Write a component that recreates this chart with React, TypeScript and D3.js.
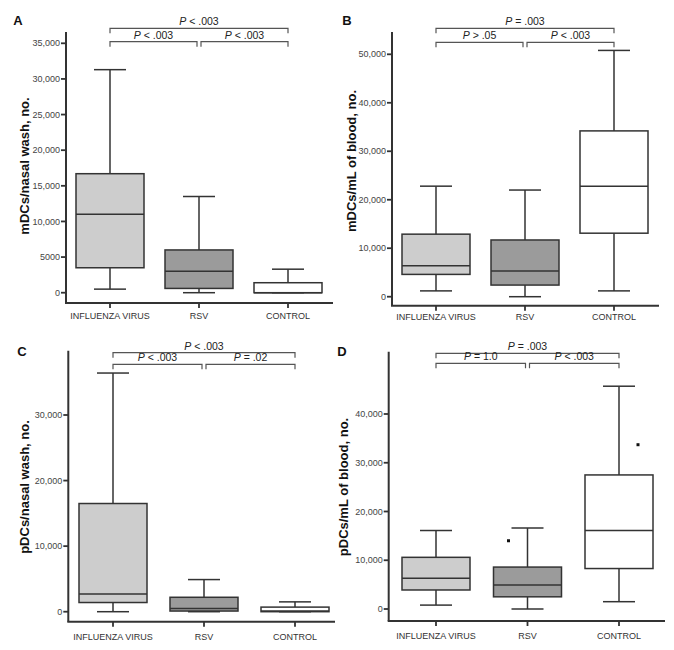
import React from "react";
import * as d3 from "d3";

const categories = ["INFLUENZA VIRUS", "RSV", "CONTROL"];
const fills = ["#cdcdcd", "#9b9b9b", "#ffffff"];

// Box stats: [min, q1, median, q3, max]
const mdcNasal = [
  [500, 3500, 11000, 16700, 31300],
  [0, 600, 3000, 6000, 13500],
  [0, 0, 0, 1400, 3300],
];
const mdcBlood = [
  [1200, 4600, 6400, 12900, 22800],
  [0, 2400, 5300, 11700, 22000],
  [1200, 13100, 22800, 34200, 50800],
];
const pdcNasal = [
  [0, 1400, 2700, 16500, 36400],
  [0, 100, 500, 2200, 4900],
  [0, 0, 100, 700, 1500],
];
const pdcBlood = [
  [800, 3900, 6300, 10600, 16100],
  [0, 2500, 4900, 8600, 16600],
  [1500, 8300, 16100, 27500, 45700],
];
const pdcBloodOutliers = [
  { cat: 1, value: 14000, side: -1 },
  { cat: 2, value: 33700, side: 1 },
];

const ticksA = [0, 5000, 10000, 15000, 20000, 25000, 30000, 35000];
const ticksB = [0, 10000, 20000, 30000, 40000, 50000];
const ticksC = [0, 10000, 20000, 30000];
const ticksD = [0, 10000, 20000, 30000, 40000];

const pA = ["< .003", "< .003", "< .003"]; // top, left, right
const pB = ["= .003", "> .05", "< .003"];
const pC = ["< .003", "< .003", "= .02"];
const pD = ["= .003", "= 1.0", "< .003"];

const FONT = "'Liberation Sans', Arial, Helvetica, sans-serif";
const fmt = (v: number) => (v >= 10000 ? d3.format(",")(v) : String(v));

type PanelProps = {
  letter: string;
  title: string;
  stats: number[][];
  ticks: number[];
  pvals: string[];
  outliers?: { cat: number; value: number; side: number }[];
  axisX: number;
  top: number;
  baseY: number;
  right: number;
  zeroY: number;
  refVal: number;
  refY: number;
  catStart: number;
  catEnd: number;
  topBr: number;
  lowBr: number;
  letterPos: [number, number];
  titlePos: [number, number];
  catLabelY: number;
};

function Panel(p: PanelProps) {
  const y = d3.scaleLinear().domain([0, p.refVal]).range([p.zeroY, p.refY]);
  const x = d3.scalePoint<string>().domain(categories).range([p.catStart, p.catEnd]);
  const boxW = 68;
  const capW = 32;
  const stroke = "#333";
  const brColor = "#555";
  const xs = categories.map((c) => x(c) as number);
  const bracket = (x1: number, x2: number, yy: number, label: string, key: string) => (
    <g key={key}>
      <path
        d={`M${x1},${yy + 5}V${yy}H${x2}V${yy + 5}`}
        fill="none"
        stroke={brColor}
        strokeWidth={1.2}
      />
      <text
        x={(x1 + x2) / 2}
        y={yy - 3}
        textAnchor="middle"
        fontSize={10.5}
        fill="#222"
        fontFamily={FONT}
      >
        <tspan fontStyle="italic">P</tspan>
        {" " + label}
      </text>
    </g>
  );
  return (
    <g>
      <text
        x={p.letterPos[0]}
        y={p.letterPos[1]}
        fontSize={13}
        fontWeight="bold"
        fontFamily={FONT}
        textAnchor="middle"
        fill="#111"
      >
        {p.letter}
      </text>
      <text
        transform={`translate(${p.titlePos[0]},${p.titlePos[1]}) rotate(-90)`}
        textAnchor="middle"
        fontSize={13}
        fontWeight="bold"
        fontFamily={FONT}
        fill="#111"
      >
        {p.title}
      </text>
      {/* axes */}
      <line x1={p.axisX} x2={p.axisX} y1={p.top} y2={p.baseY} stroke={stroke} strokeWidth={2} />
      <line x1={p.axisX - 1} x2={p.right} y1={p.baseY} y2={p.baseY} stroke={stroke} strokeWidth={2} />
      {p.ticks.map((t) => (
        <g key={t}>
          <line x1={p.axisX - 5} x2={p.axisX} y1={y(t)} y2={y(t)} stroke={stroke} strokeWidth={1.8} />
          <text
            x={p.axisX - 6}
            y={y(t)}
            dy="0.35em"
            textAnchor="end"
            fontSize={9}
            fill="#444"
            fontFamily={FONT}
          >
            {fmt(t)}
          </text>
        </g>
      ))}
      {categories.map((c, i) => (
        <g key={c}>
          <line x1={xs[i]} x2={xs[i]} y1={p.baseY} y2={p.baseY + 5} stroke={stroke} strokeWidth={1.8} />
          <text
            x={xs[i]}
            y={p.catLabelY}
            textAnchor="middle"
            fontSize={9}
            fill="#333"
            fontFamily={FONT}
          >
            {c}
          </text>
        </g>
      ))}
      {/* boxes */}
      {p.stats.map((s, i) => {
        const cx = xs[i];
        const [mn, q1, md, q3, mx] = s;
        return (
          <g key={i}>
            <line x1={cx} x2={cx} y1={y(mx)} y2={y(q3)} stroke={stroke} strokeWidth={1.5} />
            <line x1={cx} x2={cx} y1={y(q1)} y2={y(mn)} stroke={stroke} strokeWidth={1.5} />
            <line x1={cx - capW / 2} x2={cx + capW / 2} y1={y(mx)} y2={y(mx)} stroke={stroke} strokeWidth={1.5} />
            <line x1={cx - capW / 2} x2={cx + capW / 2} y1={y(mn)} y2={y(mn)} stroke={stroke} strokeWidth={1.5} />
            <rect
              x={cx - boxW / 2}
              y={y(q3)}
              width={boxW}
              height={Math.max(y(q1) - y(q3), 0)}
              fill={fills[i]}
              stroke={stroke}
              strokeWidth={1.5}
            />
            <line x1={cx - boxW / 2} x2={cx + boxW / 2} y1={y(md)} y2={y(md)} stroke={stroke} strokeWidth={1.5} />
          </g>
        );
      })}
      {(p.outliers || []).map((o, i) => (
        <rect
          key={i}
          x={xs[o.cat] + o.side * 19 - 1.5}
          y={y(o.value) - 1.5}
          width={3}
          height={3}
          fill="#111"
        />
      ))}
      {bracket(xs[0], xs[2], p.topBr, p.pvals[0], "t")}
      {bracket(xs[0], xs[1] - 2, p.lowBr, p.pvals[1], "l")}
      {bracket(xs[1] + 2, xs[2], p.lowBr, p.pvals[2], "r")}
    </g>
  );
}

export default function App() {
  return (
    <svg width={674} height={650} style={{ display: "block", position: "absolute", left: 0, top: 0, background: "#fff" }}>
      <rect width={674} height={650} fill="#fff" />
      <Panel
        letter="A"
        title="mDCs/nasal wash, no."
        stats={mdcNasal}
        ticks={ticksA}
        pvals={pA}
        axisX={66}
        top={32}
        baseY={303}
        right={333}
        zeroY={292.7}
        refVal={35000}
        refY={43.3}
        catStart={110}
        catEnd={288}
        topBr={28.3}
        lowBr={41.7}
        letterPos={[18, 25]}
        titlePos={[29, 166]}
        catLabelY={319}
      />
      <Panel
        letter="B"
        title="mDCs/mL of blood, no."
        stats={mdcBlood}
        ticks={ticksB}
        pvals={pB}
        axisX={392}
        top={32}
        baseY={305.7}
        right={659}
        zeroY={296.7}
        refVal={50000}
        refY={54.3}
        catStart={436}
        catEnd={614}
        topBr={28.3}
        lowBr={42.3}
        letterPos={[347, 25]}
        titlePos={[356, 161]}
        catLabelY={320}
      />
      <Panel
        letter="C"
        title="pDCs/nasal wash, no."
        stats={pdcNasal}
        ticks={ticksC}
        pvals={pC}
        axisX={68.3}
        top={350.7}
        baseY={621.7}
        right={335}
        zeroY={611.7}
        refVal={30000}
        refY={415}
        catStart={113}
        catEnd={295}
        topBr={352.7}
        lowBr={364.3}
        letterPos={[22, 356]}
        titlePos={[29, 487]}
        catLabelY={640}
      />
      <Panel
        letter="D"
        title="pDCs/mL of blood, no."
        stats={pdcBlood}
        ticks={ticksD}
        pvals={pD}
        outliers={pdcBloodOutliers}
        axisX={388.7}
        top={351.7}
        baseY={621}
        right={665}
        zeroY={609}
        refVal={40000}
        refY={414}
        catStart={436}
        catEnd={619}
        topBr={353.3}
        lowBr={363.3}
        letterPos={[342, 356]}
        titlePos={[348, 487]}
        catLabelY={639}
      />
    </svg>
  );
}
